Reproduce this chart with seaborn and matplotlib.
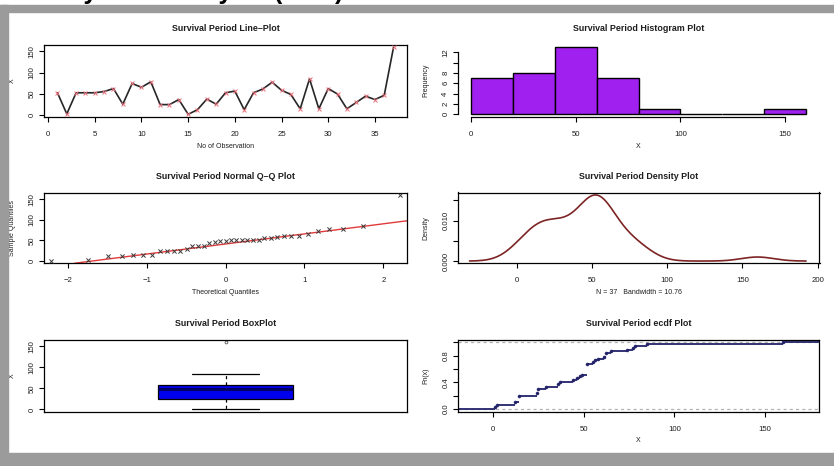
import numpy as np
import pandas as pd
import matplotlib
matplotlib.use("Agg")
import matplotlib.pyplot as plt
import seaborn as sns
from matplotlib.patches import Rectangle
from statistics import NormalDist

# ---------------- data ----------------
survival = [52, 2, 52, 52, 52, 55, 62, 25, 74, 65, 78, 24, 24, 36, 1, 12, 37, 25,
            52, 56, 12, 52, 61, 77, 58, 48, 14, 85, 14, 62, 49, 14, 29, 44, 36, 46, 160]
observation = list(range(1, len(survival) + 1))
hist_edges = [0, 20, 40, 60, 80, 100, 120, 140, 160]
bandwidth = 10.76

line_xticks = [0, 5, 10, 15, 20, 25, 30, 35]
value_yticks = [0, 50, 100, 150]
hist_xticks = [0, 50, 100, 150]
hist_yticks = [0, 2, 4, 6, 8, 10, 12]
hist_ylabels = ["0", "2", "4", "6", "8", "", "12"]
qq_xticks = [-2, -1, 0, 1, 2]
dens_xticks = [0, 50, 100, 150, 200]
dens_yticks = [0.0, 0.005, 0.010, 0.015]
dens_ylabels = ["0.000", "", "0.010", ""]
ecdf_xticks = [0, 50, 100, 150]
ecdf_yticks = [0.0, 0.2, 0.4, 0.6, 0.8, 1.0]
ecdf_ylabels = ["0.0", "", "0.4", "", "0.8", ""]

heading = "Study Data Analysis (EDA)"
titles = ["Survival Period Line\u2013Plot", "Survival Period Histogram Plot",
          "Survival Period Normal Q\u2013Q Plot", "Survival Period Density Plot",
          "Survival Period BoxPlot", "Survival Period ecdf Plot"]

# ---------------- style ----------------
sns.set_theme(style="white")
plt.rcParams["font.family"] = ["Liberation Sans", "DejaVu Sans"]

W, H = 834, 466
fig = plt.figure(figsize=(W / 100, H / 100), dpi=100)
fig.patch.set_facecolor("white")

GRAY = "#9b9b9b"
fig.patches.append(Rectangle((0, 1 - 12 / H), 1, 7 / H, transform=fig.transFigure,
                             color=GRAY, zorder=0))
fig.patches.append(Rectangle((0, 0), 1, 13 / H, transform=fig.transFigure,
                             color=GRAY, zorder=0))
fig.patches.append(Rectangle((0, 0), 8 / W, 1 - 5 / H, transform=fig.transFigure,
                             color=GRAY, zorder=0))
# heading of the page, cut off by the top edge as in the reference
fig.text(28 / W, 1 - 4.5 / H, heading, fontsize=18, fontweight="bold",
         va="bottom", ha="left", color="black", zorder=-1)

TXT = "#1e1e1e"


def px_axes(x0, y0, x1, y1):
    ax = fig.add_axes([x0 / W, 1 - y1 / H, (x1 - x0) / W, (y1 - y0) / H])
    ax.set_facecolor("none")
    return ax, (x1 - x0), (y1 - y0)


def r_style(ax, w, h, title, xlabel, ylabel, box=True):
    for s in ax.spines.values():
        s.set_visible(box)
        s.set_color("black")
        s.set_linewidth(0.9)
    ax.tick_params(axis="both", direction="out", length=3.5, width=0.8,
                   labelsize=5.6, colors="black", labelcolor=TXT,
                   bottom=True, left=True)
    ax.tick_params(axis="x", pad=6.5)
    ax.tick_params(axis="y", pad=2.5)
    for lab in ax.get_yticklabels():
        lab.set_rotation(90)
        lab.set_va("center")
    ax.set_title(title, fontsize=6.4, fontweight="bold", pad=10, color=TXT)
    ax.set_xlabel(xlabel, fontsize=5.0, color=TXT)
    ax.set_ylabel(ylabel, fontsize=5.0, color=TXT)
    ax.xaxis.set_label_coords(0.5, -25.5 / h)
    ax.yaxis.set_label_coords(-28.0 / w, 0.5)


LX0, LX1 = 44, 407
RX0, RX1 = 457.6, 819.5
R1 = (44.5, 117)
R2 = (192.5, 263.3)
R3 = (339.5, 411.7)

vals = np.array(survival, dtype=float)
n = len(vals)
vmin, vmax = vals.min(), vals.max()
ext = 0.04 * (vmax - vmin)
ylim_vals = (vmin - ext, vmax + ext)

# ---------------- 1. line plot ----------------
ax, w, h = px_axes(LX0, R1[0], LX1, R1[1])
df = pd.DataFrame({"obs": observation, "val": survival})
sns.lineplot(data=df, x="obs", y="val", ax=ax, color="#262626", lw=1.2)
sns.scatterplot(data=df, x="obs", y="val", ax=ax, marker="x", color="#e8707c",
                s=8, linewidth=0.7, zorder=3)
ax.set_xlim(-0.44, 38.44)
ax.set_ylim(*ylim_vals)
ax.set_xticks(line_xticks)
ax.set_yticks(value_yticks)
r_style(ax, w, h, titles[0], "No of Observation", "X")

# ---------------- 2. histogram ----------------
ax, w, h = px_axes(RX0, R1[0], RX1, R1[1])
sns.histplot(x=vals, bins=hist_edges, ax=ax, color="#A020F0", edgecolor="black",
             linewidth=1.0, alpha=1.0)
ax.set_xlim(-6.4, 166.4)
ax.set_ylim(-0.52, 13.52)
ax.set_xticks(hist_xticks)
ax.set_yticks(hist_yticks)
ax.set_yticklabels(hist_ylabels)
r_style(ax, w, h, titles[1], "X", "Frequency", box=False)
ax.spines["bottom"].set_visible(True)
ax.spines["left"].set_visible(True)
ax.spines["bottom"].set_bounds(hist_xticks[0], hist_xticks[-1])
ax.spines["left"].set_bounds(hist_yticks[0], hist_yticks[-1])

# ---------------- 3. normal Q-Q ----------------
ax, w, h = px_axes(LX0, R2[0], LX1, R2[1])
nd = NormalDist()
theo = np.array([nd.inv_cdf((i - 0.5) / n) for i in range(1, n + 1)])
samp = np.sort(vals)
sns.scatterplot(x=theo, y=samp, ax=ax, marker="x", color="#3a3a3a", s=9,
                linewidth=0.7, zorder=3)
q1, q3 = np.percentile(vals, [25, 75])
z1, z3 = nd.inv_cdf(0.25), nd.inv_cdf(0.75)
slope = (q3 - q1) / (z3 - z1)
intercept = q1 - slope * z1
ax.axline((0, intercept), slope=slope, color="#e23a3a", lw=1.0, zorder=2)
tx = 1.04 * np.abs(theo).max()
ax.set_xlim(-tx, tx)
ax.set_ylim(*ylim_vals)
ax.set_xticks(qq_xticks)
ax.set_xticklabels([str(t).replace("-", "\u2212") for t in qq_xticks])
ax.set_yticks(value_yticks)
r_style(ax, w, h, titles[2], "Theoretical Quantiles", "Sample Quantiles")

# ---------------- 4. density ----------------
ax, w, h = px_axes(RX0, R2[0], RX1, R2[1])
bw_factor = bandwidth / vals.std(ddof=1)
sns.kdeplot(x=vals, bw_method=bw_factor, cut=3, gridsize=512, ax=ax,
            color="#7d2424", lw=1.2)
ax.set_xlim(-39.2, 201.2)
ax.set_ylim(-0.00055, 0.01695)
ax.set_xticks(dens_xticks)
ax.set_yticks(dens_yticks)
ax.set_yticklabels(dens_ylabels)
r_style(ax, w, h, titles[3], f"N = {n}   Bandwidth = {bandwidth:.2f}", "Density")

# ---------------- 5. box plot ----------------
ax, w, h = px_axes(LX0, R3[0], LX1, R3[1])
sns.boxplot(y=vals, ax=ax, color="#0000EE", saturation=1, width=0.37,
            linecolor="black", linewidth=0.9,
            whiskerprops=dict(linestyle=(0, (2.5, 2.5))),
            medianprops=dict(color="#000060", linewidth=2.2),
            flierprops=dict(marker="o", markersize=2, markerfacecolor="none",
                            markeredgecolor="#555555", markeredgewidth=0.6))
ax.set_xlim(-0.5, 0.5)
ax.set_ylim(*ylim_vals)
ax.set_xticks([])
ax.set_yticks(value_yticks)
r_style(ax, w, h, titles[4], "", "X")

# ---------------- 6. ecdf ----------------
ax, w, h = px_axes(RX0, R3[0], RX1, R3[1])
xl = (-19.6, 180.0)
knots = np.unique(vals)
Fk = np.searchsorted(np.sort(vals), knots, side="right") / n
ax.axhline(0, ls=(0, (2.5, 2.5)), color="#b3b3b3", lw=0.9, zorder=1)
ax.axhline(1, ls=(0, (2.5, 2.5)), color="#b3b3b3", lw=0.9, zorder=1)
NAVY = "#23236a"
ax.hlines(Fk, knots, np.r_[knots[1:], xl[1]], color=NAVY, lw=1.3, zorder=2)
ax.hlines([0], [xl[0]], [knots[0]], color=NAVY, lw=1.3, zorder=2)
sns.scatterplot(x=knots, y=Fk, ax=ax, color=NAVY, s=5, edgecolor=NAVY,
                linewidth=0.3, zorder=3)
ax.set_xlim(*xl)
ax.set_ylim(-0.043, 1.043)
ax.set_xticks(ecdf_xticks)
ax.set_yticks(ecdf_yticks)
ax.set_yticklabels(ecdf_ylabels)
r_style(ax, w, h, titles[5], "X", "Fn(x)")

fig.savefig("out.png", dpi=100, facecolor=fig.get_facecolor())
